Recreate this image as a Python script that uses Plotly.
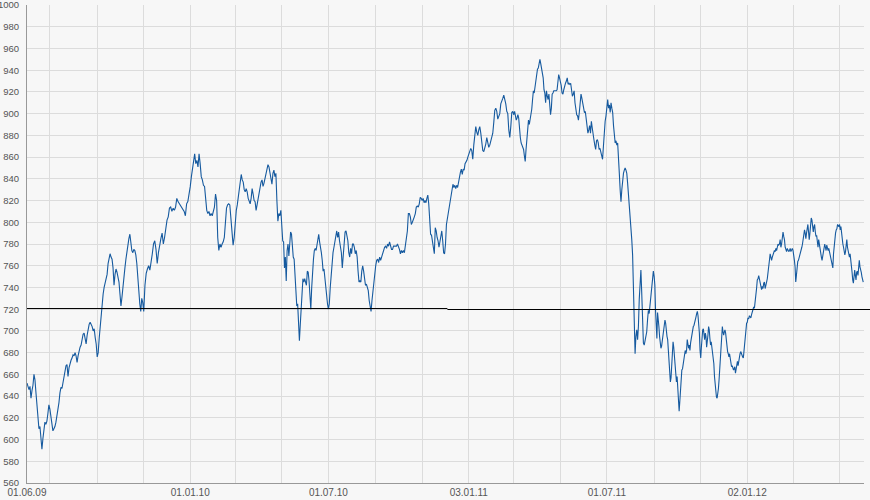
import pandas as pd
import plotly.graph_objects as go

# ---- data ----
# segment boundaries (two-month grid dates); values inside each segment are evenly spread in time
seg_bounds = ["2009-06-01", "2009-07-01", "2009-09-01", "2009-11-01", "2010-01-01",
              "2010-03-01", "2010-05-01", "2010-07-01", "2010-09-01", "2010-11-01",
              "2011-01-01", "2011-03-01", "2011-05-01", "2011-07-01", "2011-09-01",
              "2011-11-01", "2012-01-01", "2012-03-01", "2012-05-01", "2012-06-01"]

s01 = [652, 648, 646, 649, 638, 645, 650, 660, 655, 643, 630, 620, 610, 612, 596, 591, 601, 608, 616, 614, 617, 624, 632]
s02 = [628, 620, 614, 608, 610, 612, 616, 621, 628, 634, 643, 648, 647, 652, 658, 665, 668, 669, 658, 666, 671, 673, 675, 678,
       677, 680, 677, 671, 677, 682, 685, 687, 692, 697, 698, 691, 688, 696, 702, 706, 708, 706, 704, 700, 702, 694, 688]
s03 = [676, 680, 693, 705, 717, 726, 734, 740, 744, 745, 752, 762, 767, 771, 768, 766, 758, 742, 752, 757, 754, 750, 745, 734,
       723, 731, 743, 751, 758, 766, 774, 780, 785, 789, 780, 774, 772, 775, 774, 770, 762, 747, 735, 725, 718, 730, 726]
s04 = [718, 742, 753, 757, 760, 756, 762, 771, 780, 783, 775, 762, 772, 780, 785, 790, 780, 786, 796, 802, 805, 813, 814, 810,
       813, 811, 814, 822, 819, 817, 816, 813, 811, 810, 806, 817, 819, 825]
s05 = [833, 842, 851, 860, 863, 854, 857, 851, 863, 854, 842, 839, 834, 833, 823, 811, 808, 810, 806, 808, 806, 810, 814, 826,
       820, 786, 774, 780, 777, 780, 782, 786, 805, 813, 816, 817, 816, 805, 793, 779, 786]
s06 = [802, 811, 816, 823, 828, 836, 844, 839, 837, 830, 828, 831, 828, 822, 819, 817, 822, 831, 826, 820, 819, 811, 816, 822,
       828, 833, 837, 839, 833, 836, 840, 844, 847, 853, 851, 845, 840, 835, 845, 848, 842, 845, 820, 801, 808, 806, 811]
s07 = [800, 783, 782, 758, 768, 746, 774, 780, 769, 777, 791, 789, 778, 768, 766, 752, 734, 723, 725, 712, 691, 706, 728, 734,
       748, 745, 748, 743, 742, 755, 754, 746, 729, 720, 740, 757, 766, 774, 776, 774, 778, 785, 789, 782, 778, 772, 765, 755,
       757, 748, 738, 729, 725]
s08 = [720, 725, 740, 752, 763, 772, 777, 783, 789, 792, 786, 791, 783, 778, 772, 758, 768, 780, 791, 792, 786, 783, 772, 768,
       776, 771, 780, 780, 777, 771, 774, 768, 755, 745, 746, 745, 755, 760, 755, 748, 742, 743, 740, 737, 728, 720, 718, 728,
       737, 742, 748]
s09 = [760, 765, 766, 763, 768, 765, 768, 772, 774, 777, 778, 776, 780, 778, 782, 778, 775, 775, 778, 778, 778, 778, 780, 778,
       775, 771, 774, 772, 774, 772, 780, 782, 792, 808, 808, 805, 798, 800, 802, 805, 808, 814, 815, 814, 817, 823, 822]
s10 = [820, 822, 818, 820, 818, 822, 825, 817, 805, 789, 788, 783, 777, 771, 795, 792, 786, 783, 777, 783, 786, 792, 783, 772,
       771, 780, 798, 803, 809, 817, 822, 826, 831, 835, 832, 834, 831, 834, 832, 838, 841, 846, 849, 844, 849, 848, 854, 855,
       857, 860]
s11 = [862, 865, 868, 866, 858, 871, 882, 888, 883, 880, 885, 888, 882, 875, 866, 865, 868, 872, 878, 871, 869, 871, 875, 877,
       882, 892, 903, 905, 902, 895, 897, 900, 909, 911, 914, 917, 914, 909, 902, 900, 885, 878, 888, 901, 902]
s12 = [899, 902, 898, 894, 896, 899, 896, 885, 878, 873, 871, 870, 867, 861, 856, 867, 875, 884, 894, 890, 894, 898, 904, 913,
       921, 919, 926, 928, 934, 941, 942, 945, 950, 946, 942, 939, 933, 922, 919, 910, 921, 916, 913, 918, 908, 899, 905, 918,
       919, 921, 921, 921, 921, 922, 928, 936, 933]
s13 = [930, 926, 919, 918, 922, 926, 928, 930, 933, 927, 928, 927, 928, 922, 916, 918, 921, 910, 901, 899, 898, 894, 901, 911,
       918, 914, 910, 904, 901, 902, 896, 890, 882, 885, 889, 882, 893, 887, 879, 876, 871, 867, 875, 876, 873, 867, 868, 865,
       861, 858, 870, 885, 893, 898]
s14 = [904, 913, 905, 908, 901, 910, 905, 901, 889, 876, 873, 875, 871, 873, 862, 845, 830, 819, 830, 839, 845, 848, 850, 848,
       845, 836, 827, 819, 804, 800, 784, 770, 745, 720, 679, 695, 701, 692, 704, 729, 750, 756, 735, 704, 689, 687, 692, 693,
       699, 710, 719, 716, 724, 735, 744, 753, 755]
s15 = [750, 742, 719, 695, 693, 717, 712, 704, 695, 687, 684, 686, 692, 698, 704, 709, 710, 707, 698, 695, 692, 682, 672, 656,
       653, 657, 667, 676, 690, 685, 676, 667, 658, 653, 658, 646, 641, 626, 635, 646, 655, 664, 665, 670, 672, 676, 682, 679,
       682, 692, 685, 684, 687, 682, 689, 693, 698, 701, 704, 705, 709, 710, 713, 716, 718, 714, 707, 698, 682]
s16 = [675, 685, 695, 701, 702, 698, 692, 698, 695, 685, 689, 696, 704, 701, 693, 687, 690, 685, 684, 678, 670, 658, 651, 643,
       639, 638, 642, 647, 655, 664, 676, 689, 701, 704, 699, 696, 699, 701, 698, 689, 682, 681, 679, 676, 679, 673, 672, 667,
       668, 665, 664, 665, 667, 661, 665, 670, 672, 668, 673, 676, 679, 681, 679, 676, 676, 675, 682, 689, 696, 701, 707]
s17 = [708, 712, 711, 714, 713, 712, 715, 718, 721, 722, 721, 730, 737, 739, 747, 748, 751, 748, 745, 741, 738, 741, 739, 744,
       745, 739, 744, 745, 748, 756, 761, 765, 771, 768, 765, 768, 771, 773, 774, 773, 776, 774, 777, 780, 779, 780, 784, 777,
       780, 790, 791, 787, 784, 777, 774, 773, 776, 774, 773, 774, 776, 773, 774, 776]
s18 = [774, 771, 765, 759, 745, 751, 759, 764, 765, 767, 770, 773, 774, 777, 780, 785, 791, 793, 790, 785, 790, 796, 798, 791,
       784, 790, 799, 804, 802, 796, 791, 796, 798, 791, 787, 788, 782, 777, 784, 779, 776, 774, 768, 765, 770, 771, 779, 780,
       777, 774, 779, 776, 774, 776, 773, 771, 768, 764, 761, 758, 771, 780, 785, 790, 793, 794, 798, 797, 796]
s19 = [798, 793, 796, 790, 782, 780, 777, 773, 770, 773, 780, 784, 777, 774, 771, 768, 771, 762, 758, 754, 747, 744, 750, 756,
       751, 747, 754, 755, 751, 758, 765, 759, 754, 754, 750, 748, 745]

segments = [s01, s02, s03, s04, s05, s06, s07, s08, s09, s10,
            s11, s12, s13, s14, s15, s16, s17, s18, s19]

# horizontal reference level (slight step in the middle, as in the reference)
ref_dates = ["2009-06-01", "2010-12-04", "2012-06-02"]
ref_levels = [720.6, 719.7]

# x axis ticks / grid
tick_dates = ["2009-06-01", "2009-07-01", "2009-09-01", "2009-11-01", "2010-01-01", "2010-03-01",
              "2010-05-01", "2010-07-01", "2010-09-01", "2010-11-01", "2011-01-01", "2011-03-01",
              "2011-05-01", "2011-07-01", "2011-09-01", "2011-11-01", "2012-01-01", "2012-03-01",
              "2012-05-01"]
tick_labels = ["01.06.09", "", "", "", "01.01.10", "", "", "01.07.10", "", "", "03.01.11", "",
               "", "01.07.11", "", "", "02.01.12", "", ""]

x_range = ["2009-06-01", "2012-06-02"]
y_range = [560, 1000]

# ---- build series ----
dates, vals = [], []
for k, seg in enumerate(segments):
    t0 = pd.Timestamp(seg_bounds[k])
    t1 = pd.Timestamp(seg_bounds[k + 1])
    n = len(seg)
    denom = (n - 1) if k == len(segments) - 1 else n
    for i, v in enumerate(seg):
        dates.append(t0 + (t1 - t0) * i / denom)
        vals.append(v)

fig = go.Figure()
fig.add_trace(go.Scatter(x=dates, y=vals, mode="lines",
                         line=dict(color="#165a9f", width=1.1),
                         hoverinfo="x+y"))

line_style = dict(color="#000000", width=1)
fig.add_shape(type="line", xref="x", yref="y", x0=ref_dates[0], x1=ref_dates[1],
              y0=ref_levels[0], y1=ref_levels[0], line=line_style)
fig.add_shape(type="line", xref="x", yref="y", x0=ref_dates[1], x1=ref_dates[2],
              y0=ref_levels[1], y1=ref_levels[1], line=line_style)
fig.add_shape(type="line", xref="x domain", yref="y", x0=1, x1=1.008,
              y0=ref_levels[1], y1=ref_levels[1], line=line_style)

fig.update_layout(
    width=870, height=500,
    margin=dict(l=27, r=6, t=5, b=17, autoexpand=False),
    paper_bgcolor="#f7f7f7", plot_bgcolor="#f7f7f7",
    showlegend=False,
    font=dict(family="Liberation Sans, Arial, sans-serif", size=10, color="#555555"),
    xaxis=dict(type="date", range=x_range, tickvals=tick_dates, ticktext=tick_labels,
               showgrid=True, gridcolor="#dcdcdc", gridwidth=1, ticks="",
               showline=True, linecolor="#999999", linewidth=1, zeroline=False,
               tickangle=0, ticklabeloverflow="allow", automargin=False),
    yaxis=dict(range=y_range, tick0=560, dtick=20, showgrid=True, gridcolor="#dcdcdc",
               gridwidth=1, ticks="", showline=True, linecolor="#999999", linewidth=1,
               zeroline=False, ticklabeloverflow="allow", automargin=False,
               ticklabelstandoff=5, tickfont=dict(size=9.5)),
)

fig.write_html("out.html",
               config={"displayModeBar": False},
               post_script="document.body.style.margin='0px';document.body.style.overflow='hidden';")
